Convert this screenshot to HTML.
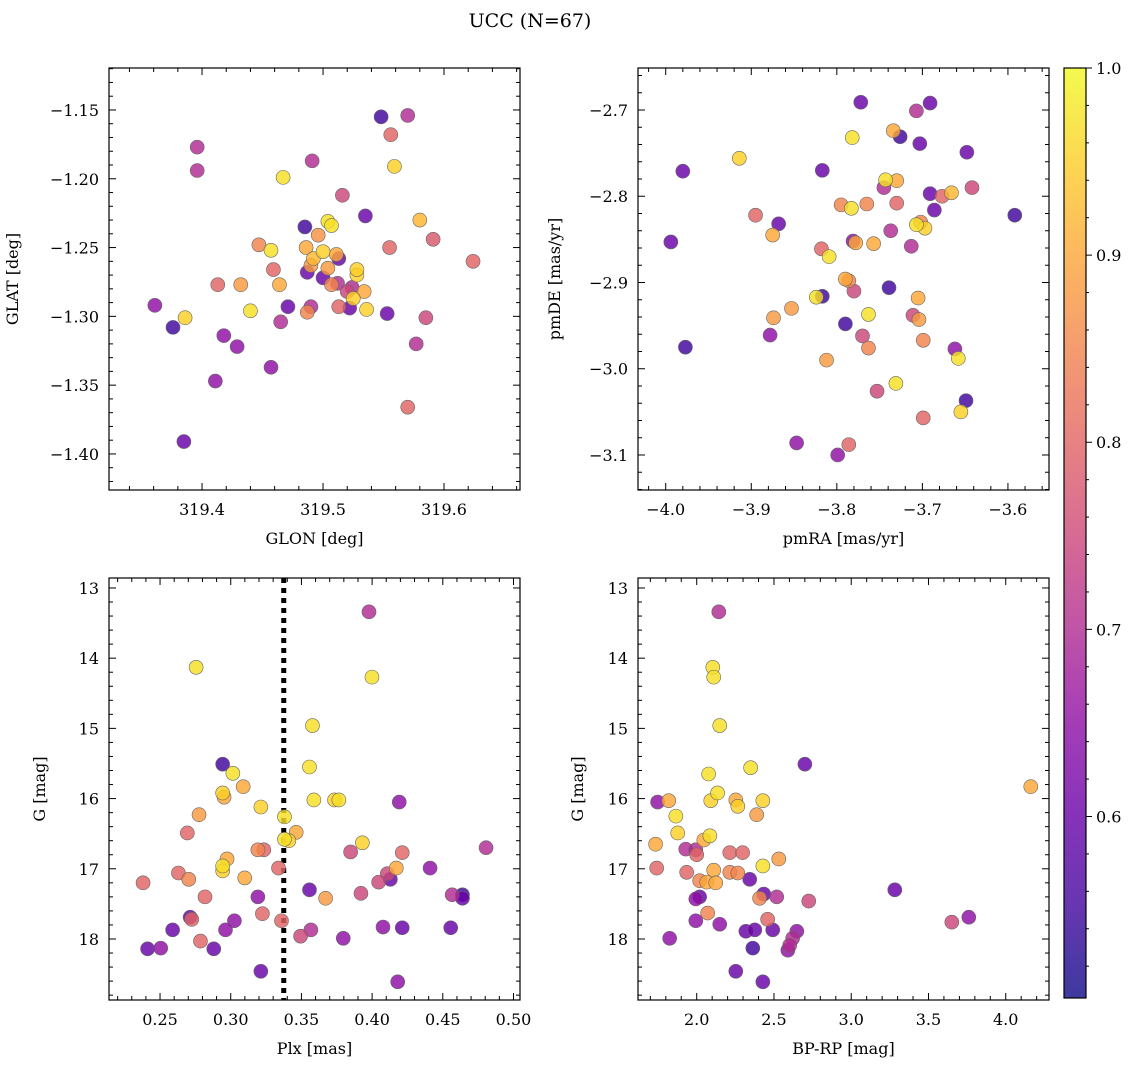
<!DOCTYPE html>
<html><head><meta charset="utf-8"><style>
html,body{margin:0;padding:0;background:#fff;}
svg{display:block;font-family:"DejaVu Serif","Liberation Serif",serif;}
</style></head><body>
<svg id="fig" width="1136" height="1067" viewBox="0 0 1136 1067">
<defs><linearGradient id="cbg" x1="0" y1="1" x2="0" y2="0">
<stop offset="0" stop-color="#0d0887"/><stop offset="0.1" stop-color="#41049d"/><stop offset="0.2" stop-color="#6a00a8"/><stop offset="0.3" stop-color="#8f0da4"/><stop offset="0.4" stop-color="#b12a90"/><stop offset="0.5" stop-color="#cc4778"/><stop offset="0.6" stop-color="#e16462"/><stop offset="0.7" stop-color="#f2844b"/><stop offset="0.8" stop-color="#fca636"/><stop offset="0.9" stop-color="#fcce25"/><stop offset="1" stop-color="#f0f921"/>
</linearGradient></defs>
<text x="530" y="27" font-size="19" text-anchor="middle">UCC (N=67)</text>
</svg>
<script>
// ---- Panel 1: GLON vs GLAT
const glonVals=[319.548,319.570,319.396,319.556,319.396,319.491,319.559,319.467,319.516,319.535,319.580,319.504,319.507,319.485,319.591,319.447,319.496,319.486,319.500,319.492,319.511,319.490,319.513,319.500,319.487,319.512,319.524,319.520,319.528,319.528,319.534,319.525,319.536,319.513,319.522,319.490,319.487,319.507,319.504,319.555,319.457,319.432,319.413,319.459,319.464,319.471,319.440,319.361,319.386,319.376,319.418,319.429,319.465,319.553,319.585,319.577,319.457,319.411,319.570,319.385,319.624];
const glatVals=[-1.155,-1.154,-1.177,-1.168,-1.194,-1.187,-1.191,-1.199,-1.212,-1.227,-1.230,-1.231,-1.234,-1.235,-1.244,-1.248,-1.241,-1.250,-1.253,-1.258,-1.255,-1.263,-1.258,-1.272,-1.268,-1.276,-1.279,-1.282,-1.270,-1.266,-1.282,-1.287,-1.295,-1.293,-1.294,-1.293,-1.297,-1.277,-1.265,-1.250,-1.252,-1.277,-1.277,-1.266,-1.277,-1.293,-1.296,-1.292,-1.301,-1.308,-1.314,-1.322,-1.304,-1.298,-1.301,-1.320,-1.337,-1.347,-1.366,-1.391,-1.260];
const prob1=[0.55,0.7,0.7,0.8,0.7,0.7,0.95,0.97,0.75,0.6,0.92,0.97,0.97,0.55,0.78,0.85,0.87,0.9,0.95,0.92,0.9,0.88,0.6,0.6,0.6,0.7,0.7,0.75,0.95,0.95,0.9,0.95,0.95,0.8,0.6,0.7,0.85,0.85,0.88,0.8,0.97,0.88,0.8,0.8,0.9,0.6,0.97,0.65,0.95,0.55,0.65,0.65,0.7,0.6,0.75,0.7,0.65,0.65,0.8,0.6,0.8];
// ---- Panel 2: pmRA vs pmDE
const pmraVals=[-3.772,-3.691,-3.707,-3.734,-3.726,-3.703,-3.782,-3.914,-3.648,-3.980,-3.817,-3.743,-3.730,-3.745,-3.691,-3.666,-3.642,-3.677,-3.686,-3.783,-3.895,-3.795,-3.765,-3.730,-3.592,-3.868,-3.702,-3.697,-3.707,-3.713,-3.875,-3.737,-3.781,-3.778,-3.757,-3.994,-3.818,-3.809,-3.790,-3.786,-3.780,-3.739,-3.824,-3.817,-3.705,-3.763,-3.711,-3.704,-3.874,-3.853,-3.790,-3.878,-3.770,-3.763,-3.977,-3.699,-3.662,-3.658,-3.812,-3.731,-3.753,-3.649,-3.655,-3.699,-3.847,-3.786,-3.799];
const pmdeVals=[-2.691,-2.692,-2.701,-2.724,-2.731,-2.739,-2.732,-2.756,-2.749,-2.771,-2.770,-2.781,-2.782,-2.790,-2.797,-2.796,-2.790,-2.800,-2.816,-2.814,-2.822,-2.810,-2.809,-2.808,-2.822,-2.832,-2.830,-2.837,-2.833,-2.858,-2.845,-2.840,-2.852,-2.854,-2.855,-2.853,-2.861,-2.870,-2.896,-2.898,-2.910,-2.906,-2.917,-2.916,-2.918,-2.937,-2.938,-2.943,-2.941,-2.930,-2.948,-2.961,-2.962,-2.976,-2.975,-2.967,-2.977,-2.988,-2.990,-3.017,-3.026,-3.037,-3.050,-3.057,-3.086,-3.088,-3.100];
const prob2=[0.6,0.6,0.7,0.9,0.55,0.6,0.97,0.95,0.6,0.6,0.6,0.97,0.9,0.7,0.6,0.92,0.75,0.8,0.6,0.97,0.8,0.85,0.85,0.8,0.55,0.6,0.85,0.95,0.97,0.7,0.9,0.7,0.65,0.9,0.9,0.6,0.8,0.97,0.9,0.85,0.75,0.55,0.97,0.55,0.9,0.97,0.75,0.88,0.88,0.88,0.55,0.65,0.75,0.85,0.55,0.85,0.65,0.97,0.88,0.97,0.75,0.55,0.95,0.8,0.65,0.8,0.65];
// ---- Panel 3: Plx vs G
const plxVals=[0.3978,0.2755,0.3999,0.3578,0.2943,0.3015,0.3557,0.3088,0.2943,0.2953,0.3588,0.3734,0.3765,0.4192,0.3213,0.2776,0.3380,0.3463,0.2693,0.3380,0.3411,0.3931,0.3192,0.3234,0.3848,0.4213,0.4806,0.2974,0.2943,0.3338,0.2943,0.4410,0.2630,0.2380,0.2703,0.3099,0.4171,0.4108,0.4046,0.4129,0.3921,0.3671,0.3557,0.2818,0.3192,0.4566,0.4639,0.4639,0.3224,0.2713,0.2724,0.3026,0.3359,0.2589,0.2963,0.3567,0.3494,0.3796,0.2786,0.4077,0.4213,0.4556,0.2412,0.2505,0.2880,0.3213,0.4181];
const gVals3=[13.34,14.13,14.27,14.96,15.51,15.64,15.55,15.83,15.92,15.98,16.02,16.02,16.02,16.05,16.12,16.23,16.26,16.48,16.49,16.58,16.60,16.63,16.73,16.73,16.76,16.77,16.70,16.86,16.96,16.99,17.03,16.99,17.06,17.20,17.15,17.13,16.99,17.07,17.19,17.15,17.35,17.42,17.30,17.40,17.40,17.37,17.37,17.42,17.64,17.69,17.72,17.74,17.74,17.87,17.87,17.87,17.96,17.99,18.03,17.83,17.84,17.84,18.14,18.13,18.14,18.46,18.61];
const prob3=[0.7,0.97,0.97,0.97,0.55,0.97,0.97,0.9,0.95,0.9,0.97,0.95,0.97,0.65,0.95,0.88,0.97,0.9,0.8,0.97,0.95,0.95,0.85,0.8,0.75,0.8,0.7,0.9,0.97,0.8,0.95,0.65,0.8,0.8,0.85,0.9,0.9,0.75,0.75,0.6,0.75,0.88,0.6,0.8,0.65,0.7,0.55,0.6,0.8,0.6,0.8,0.65,0.8,0.6,0.65,0.7,0.75,0.65,0.8,0.65,0.6,0.6,0.6,0.65,0.6,0.6,0.65];
const plxCut=0.3375;
// ---- Panel 4: BP-RP vs G
const bprpVals=[2.143,2.104,2.110,2.149,2.700,2.349,2.077,4.162,2.135,1.819,2.091,2.253,2.428,1.747,2.266,2.388,1.865,1.877,2.085,2.046,1.734,1.929,1.994,2.000,2.214,2.297,2.531,2.428,1.741,2.110,1.935,2.214,2.266,2.019,2.065,2.123,2.343,3.282,2.019,2.434,2.518,1.994,2.725,2.407,2.071,2.459,3.651,3.761,2.149,1.994,2.318,2.376,2.492,2.648,1.825,2.621,2.602,2.363,2.590,2.253,2.428];
const gVals4=[13.34,14.13,14.27,14.96,15.51,15.56,15.65,15.83,15.92,16.03,16.03,16.02,16.03,16.05,16.11,16.23,16.25,16.49,16.53,16.59,16.65,16.72,16.73,16.80,16.77,16.77,16.86,16.96,16.99,17.02,17.05,17.05,17.06,17.17,17.19,17.20,17.15,17.30,17.40,17.36,17.40,17.43,17.46,17.42,17.63,17.72,17.76,17.69,17.79,17.74,17.89,17.87,17.87,17.89,17.99,17.99,18.09,18.13,18.16,18.46,18.61];
const prob4=[0.7,0.97,0.97,0.97,0.6,0.97,0.97,0.9,0.97,0.9,0.95,0.9,0.95,0.65,0.95,0.88,0.97,0.95,0.97,0.9,0.9,0.7,0.7,0.8,0.8,0.8,0.88,0.97,0.8,0.9,0.8,0.85,0.85,0.85,0.9,0.9,0.6,0.6,0.6,0.6,0.7,0.65,0.75,0.85,0.85,0.8,0.75,0.65,0.65,0.65,0.6,0.6,0.6,0.65,0.65,0.7,0.7,0.55,0.65,0.6,0.6];
const cbTicks=[0.6,0.7,0.8,0.9,1.0];

const NS='http://www.w3.org/2000/svg';
const svg=document.getElementById('fig');
function mk(tag,attrs,parent){const e=document.createElementNS(NS,tag);for(const k in attrs)e.setAttribute(k,attrs[k]);(parent||svg).appendChild(e);return e;}
const stops=[[13,8,135],[65,4,157],[106,0,168],[143,13,164],[177,42,144],[204,71,120],[225,100,98],[242,132,75],[252,166,54],[252,206,37],[240,249,33]];
const CMIN=0.503,CMAX=1.0;
function plasma(v){let t=(v-CMIN)/(CMAX-CMIN);t=Math.max(0,Math.min(1,t));const f=t*10,i=Math.min(9,Math.floor(f)),r=f-i;const a=stops[i],b=stops[i+1];return 'rgb('+a.map((c,k)=>Math.round(c+(b[k]-c)*r)).join(',')+')';}
function fmt(v,d){const s=Math.abs(v).toFixed(d);return (v<0?'\u2212':'')+s;}

function panel(o){
  const g=mk('g',{});
  
  
  const X=v=>o.L+(v-o.xr[0])/(o.xr[1]-o.xr[0])*(o.R-o.L);
  const Y=v=>o.invY? o.T+(v-o.yr[0])/(o.yr[1]-o.yr[0])*(o.B-o.T) : o.B-(v-o.yr[0])/(o.yr[1]-o.yr[0])*(o.B-o.T);
  const tg=mk('g',{stroke:'#000','stroke-width':1},g);
  
  
  const eps=1e-9;
  for(let k=Math.ceil(o.xr[0]/o.xmin-eps);k*o.xmin<=o.xr[1]+eps;k++){const v=k*o.xmin;const x=X(v);const maj=Math.abs(v/o.xmaj-Math.round(v/o.xmaj))<1e-4;const l=maj?7:4;
    mk('line',{x1:x,x2:x,y1:o.B,y2:o.B-l},tg);mk('line',{x1:x,x2:x,y1:o.T,y2:o.T+l},tg);}
  const ylo=Math.min(...o.yr),yhi=Math.max(...o.yr);
  for(let k=Math.ceil(ylo/o.ymin-eps);k*o.ymin<=yhi+eps;k++){const v=k*o.ymin;const y=Y(v);const maj=Math.abs(v/o.ymaj-Math.round(v/o.ymaj))<1e-4;const l=maj?7:4;
    mk('line',{x1:o.L,x2:o.L+l,y1:y,y2:y},tg);mk('line',{x1:o.R,x2:o.R-l,y1:y,y2:y},tg);}
  o.xt.forEach(v=>{const t=mk('text',{x:X(v),y:o.B+25,'font-size':16,'text-anchor':'middle'},g);t.textContent=fmt(v,o.xd);
    });
  o.yt.forEach(v=>{const t=mk('text',{x:o.L-10,y:Y(v)+6,'font-size':16,'text-anchor':'end'},g);t.textContent=fmt(v,o.yd);
    });
  const xl=mk('text',{x:(o.L+o.R)/2,y:o.B+54,'font-size':16,'text-anchor':'middle'},g);xl.textContent=o.xlab;
  
  const yl=mk('text',{x:0,y:0,'font-size':16,'text-anchor':'middle',transform:'translate('+(o.L-o.yoff)+','+((o.T+o.B)/2)+') rotate(-90)'},g);yl.textContent=o.ylab;
  
  if(o.vline!==undefined){const vl=mk('line',{x1:X(o.vline),x2:X(o.vline),y1:o.T,y2:o.B,stroke:'#000','stroke-width':5,'stroke-dasharray':'5,5'},g);
    }
  const pg=mk('g',{},g);
  
  
  const idx=o.xs.map((_,i)=>i).sort((a,b)=>o.ps[a]-o.ps[b]);
  idx.forEach(i=>{const c=mk('circle',{cx:X(o.xs[i]),cy:Y(o.ys[i]),r:7,fill:plasma(o.ps[i]),'fill-opacity':0.82,stroke:'#666','stroke-width':0.6},pg);
    });
  const fr=mk('rect',{x:o.L,y:o.T,width:o.R-o.L,height:o.B-o.T,fill:'none',stroke:'#000','stroke-width':1.2},g);
  
}
panel({name:'glon-glat-panel',yoff:91,L:109,R:520,T:68,B:490,xr:[319.3231,319.6628],yr:[-1.4262,-1.1195],xmaj:0.1,xmin:0.02,ymaj:0.05,ymin:0.01,xt:[319.4,319.5,319.6],xd:1,yt:[-1.15,-1.2,-1.25,-1.3,-1.35,-1.4],yd:2,xlab:'GLON [deg]',ylab:'GLAT [deg]',xs:glonVals,ys:glatVals,ps:prob1});
panel({name:'pm-panel',yoff:78,L:638,R:1049,T:68,B:490,xr:[-4.0324,-3.552],yr:[-3.1406,-2.6513],xmaj:0.1,xmin:0.02,ymaj:0.1,ymin:0.02,xt:[-4.0,-3.9,-3.8,-3.7,-3.6],xd:1,yt:[-2.7,-2.8,-2.9,-3.0,-3.1],yd:1,xlab:'pmRA [mas/yr]',ylab:'pmDE [mas/yr]',xs:pmraVals,ys:pmdeVals,ps:prob2});
panel({name:'plx-g-panel',yoff:64,L:109,R:520,T:578,B:1000,xr:[0.2139,0.5046],yr:[12.858,18.869],invY:true,xmaj:0.05,xmin:0.01,ymaj:1,ymin:0.2,xt:[0.25,0.3,0.35,0.4,0.45,0.5],xd:2,yt:[13,14,15,16,17,18],yd:0,xlab:'Plx [mas]',ylab:'G [mag]',xs:plxVals,ys:gVals3,ps:prob3,vline:plxCut});
panel({name:'cmd-panel',yoff:55,L:638,R:1049,T:578,B:1000,xr:[1.620,4.280],yr:[12.858,18.869],invY:true,xmaj:0.5,xmin:0.1,ymaj:1,ymin:0.2,xt:[2.0,2.5,3.0,3.5,4.0],xd:1,yt:[13,14,15,16,17,18],yd:0,xlab:'BP-RP [mag]',ylab:'G [mag]',xs:bprpVals,ys:gVals4,ps:prob4});
// colorbar
const cb=mk('g',{});


const cT=68,cB=998,cL=1064,cR=1086;
const CY=v=>cB-(v-CMIN)/(CMAX-CMIN)*(cB-cT);
mk('rect',{x:cL,y:cT,width:cR-cL,height:cB-cT,fill:'url(#cbg)','fill-opacity':0.8},cb);
mk('rect',{x:cL,y:cT,width:cR-cL,height:cB-cT,fill:'none',stroke:'#000','stroke-width':1.2},cb);
for(let k=26;k<=50;k++){const v=k*0.02;const y=CY(v);const maj=(k%5===0);mk('line',{x1:cR,x2:cR+(maj?6:3),y1:y,y2:y,stroke:'#000'},cb);}
cbTicks.forEach(v=>{const t=mk('text',{x:cR+10,y:CY(v)+6,'font-size':16},cb);t.textContent=v.toFixed(1);
  });
</script>
</body></html>
